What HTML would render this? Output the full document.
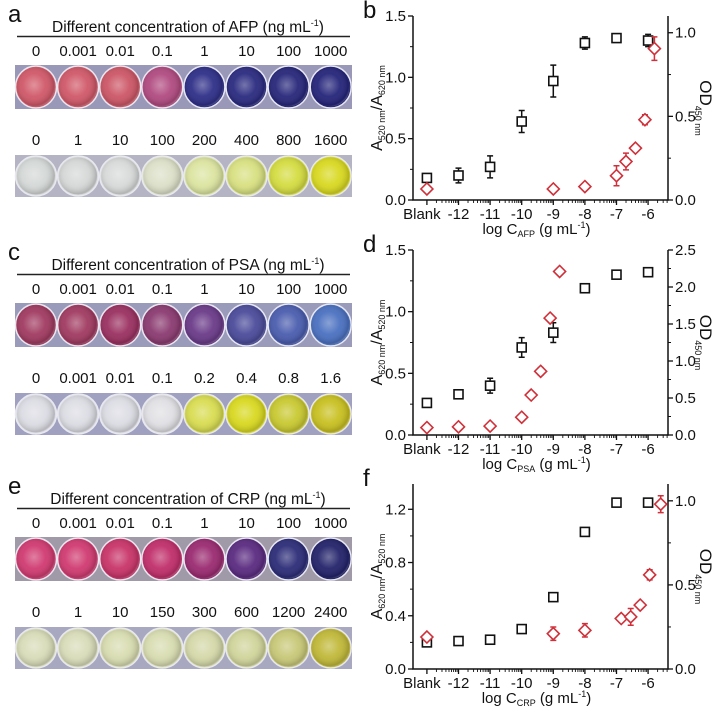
<!DOCTYPE html>
<html><head><meta charset="utf-8"><style>
html,body{margin:0;padding:0;background:#fff;}
svg{display:block;font-family:"Liberation Sans",sans-serif;}
</style></head><body>
<svg id="fig" width="723" height="711" viewBox="0 0 723 711">
<defs>
<radialGradient id="shine" cx="0.45" cy="0.45" r="0.6">
<stop offset="0" stop-color="#fff" stop-opacity="0.35"/>
<stop offset="0.5" stop-color="#fff" stop-opacity="0.05"/>
<stop offset="0.85" stop-color="#000" stop-opacity="0.15"/>
<stop offset="1" stop-color="#fff" stop-opacity="0.5"/>
</radialGradient>
</defs>
<g id="photos"></g>
<g id="charts"></g>
</svg>
<script>
// ---------- photo panel data ----------
const panelLetters = ['a','c','e'];
const panelAnalytes = ['AFP','PSA','CRP'];
const topLabels = [
 ['0','0.001','0.01','0.1','1','10','100','1000'],
 ['0','0.001','0.01','0.1','1','10','100','1000'],
 ['0','0.001','0.01','0.1','1','10','100','1000']];
const bottomLabels = [
 ['0','1','10','100','200','400','800','1600'],
 ['0','0.001','0.01','0.1','0.2','0.4','0.8','1.6'],
 ['0','1','10','150','300','600','1200','2400']];
const topColors = [
 ['#d05868','#d05868','#cc5666','#b04a80','#2e2e88','#2a2a80','#26267a','#24247a'],
 ['#a03a60','#a03a60','#9a3060','#8a3a70','#6a3a88','#4a4a9a','#4a5cae','#4a70c0'],
 ['#d03a70','#d03a70','#c83468','#c02e6a','#9a2a70','#5a2a80','#2c2c78','#22226a']];
const bottomColors = [
 ['#d4d8d6','#d6d8d8','#d8dada','#dce0c8','#dce4a0','#d8e080','#d4dc40','#d8d820'],
 ['#dcdce4','#dcdce4','#dcdce4','#e0e0e4','#d8dc50','#d8d820','#c8c830','#c8c020'],
 ['#d8dcb8','#d8dcb8','#d8dcb0','#d8dcb0','#d4d8a8','#d0d49a','#c8c878','#c0b838']];
const topBg = ['#9a98b8','#9a9aba','#a09aa8'];
const bottomBg = ['#b4b4c4','#a0a0c0','#a8a8c0'];
const panelOffsets = [0,238,472];

const NS='http://www.w3.org/2000/svg';
function mk(tag, attrs, parent){const e=document.createElementNS(NS,tag);for(const k in attrs)e.setAttribute(k,attrs[k]);if(parent)parent.appendChild(e);return e;}
function txt(parent,x,y,s,size,anchor,name){const t=mk('text',{x:x,y:y,'font-size':size,'text-anchor':anchor||'middle',fill:'#111'},parent);t.textContent=s;return t;}

const photos=document.getElementById('photos');
for(let p=0;p<3;p++){
  const oy=panelOffsets[p];
  const g=mk('g',{},photos);
  
  
  txt(g,8,oy+22,panelLetters[p],24,'start','panel-letter-'+panelLetters[p]);
  const h=mk('text',{x:188,y:oy+32,'font-size':15.5,'text-anchor':'middle',fill:'#111'},g);
  
  
  h.innerHTML='Different concentration of '+panelAnalytes[p]+' (ng mL<tspan dy="-6" font-size="9">-1</tspan><tspan dy="6">)</tspan>';
  const ln=mk('line',{x1:17,x2:350,y1:oy+36.5,y2:oy+36.5,stroke:'#222','stroke-width':1.6},g);
  
  
  const rows=[{y0:oy+65,h:44,lab:topLabels[p],col:topColors[p],bg:topBg[p],ly:oy+56},
              {y0:oy+155,h:42,lab:bottomLabels[p],col:bottomColors[p],bg:bottomBg[p],ly:oy+145}];
  rows.forEach((r,ri)=>{
    const bg=mk('rect',{x:15,y:r.y0,width:337,height:r.h,fill:r.bg},g);
    
    
    for(let i=0;i<8;i++){
      const cx=36+i*42.1, cy=r.y0+r.h/2;
      txt(g,cx,r.ly,r.lab[i],15,'middle','concentration-label');
      const c=mk('ellipse',{cx:cx,cy:cy,rx:20.5,ry:r.h/2-1,fill:r.col[i],stroke:'#e8e8f0','stroke-width':1.5},g);
      
      
      const s=mk('ellipse',{cx:cx,cy:cy,rx:19,ry:r.h/2-2.5,fill:'url(#shine)'},g);
      
      
    }
  });
}

// ---------- chart data ----------
const xTickVals = [-13,-12,-11,-10,-9,-8,-7,-6];
const xTickLabels = ['Blank','-12','-11','-10','-9','-8','-7','-6'];

const bBlackX = [-13,-12,-11,-10,-9,-8,-7,-6];
const bBlackY = [0.18,0.20,0.27,0.64,0.97,1.28,1.32,1.30];
const bBlackE = [0.02,0.06,0.09,0.09,0.13,0.05,0.02,0.05];
const bRedX = [-13,-9,-8,-7,-6.7,-6.4,-6.1,-5.8];
const bRedY = [0.066,0.066,0.08,0.145,0.23,0.31,0.48,0.905];
const bRedE = [0.01,0.01,0.01,0.06,0.05,0.02,0.03,0.07];

const dBlackX = [-13,-12,-11,-10,-9,-8,-7,-6];
const dBlackY = [0.26,0.33,0.40,0.71,0.83,1.19,1.30,1.32];
const dBlackE = [0.01,0.02,0.06,0.08,0.08,0.01,0.01,0.01];
const dRedX = [-13,-12,-11,-10,-9.7,-9.4,-9.1,-8.8];
const dRedY = [0.10,0.11,0.12,0.24,0.54,0.86,1.58,2.21];
const dRedE = [0.02,0.02,0.02,0.03,0.03,0.05,0.04,0.03];

const fBlackX = [-13,-12,-11,-10,-9,-8,-7,-6];
const fBlackY = [0.20,0.21,0.22,0.30,0.54,1.03,1.25,1.25];
const fBlackE = [0.01,0.01,0.01,0.02,0.01,0.03,0.01,0.01];
const fRedX = [-13,-9,-8,-6.85,-6.55,-6.25,-5.95,-5.6];
const fRedY = [0.19,0.21,0.23,0.30,0.31,0.38,0.56,0.98];
const fRedE = [0.02,0.04,0.04,0.02,0.05,0.02,0.03,0.05];

const bLeftTicks=[0,0.5,1.0,1.5], bLeftLabels=['0.0','0.5','1.0','1.5'];
const bRightTicks=[0,0.5,1.0], bRightLabels=['0.0','0.5','1.0'];
const dLeftTicks=[0,0.5,1.0,1.5], dLeftLabels=['0.0','0.5','1.0','1.5'];
const dRightTicks=[0,0.5,1.0,1.5,2.0,2.5], dRightLabels=['0.0','0.5','1.0','1.5','2.0','2.5'];
const fLeftTicks=[0,0.4,0.8,1.2], fLeftLabels=['0.0','0.4','0.8','1.2'];
const fRightTicks=[0,0.5,1.0], fRightLabels=['0.0','0.5','1.0'];

const charts=[
 {id:'b',top:16,bottom:200,lmax:1.5,rmax:1.1,lt:bLeftTicks,ll:bLeftLabels,lminor:0.25,rt:bRightTicks,rl:bRightLabels,rminor:0.25,
  bx:bBlackX,by:bBlackY,be:bBlackE,rx:bRedX,ry:bRedY,re:bRedE,ylab:['520','620'],an:'AFP'},
 {id:'d',top:250,bottom:435,lmax:1.5,rmax:2.5,lt:dLeftTicks,ll:dLeftLabels,lminor:0.25,rt:dRightTicks,rl:dRightLabels,rminor:0.25,
  bx:dBlackX,by:dBlackY,be:dBlackE,rx:dRedX,ry:dRedY,re:dRedE,ylab:['620','520'],an:'PSA'},
 {id:'f',top:484,bottom:669,lmax:1.39,rmax:1.1,lt:fLeftTicks,ll:fLeftLabels,lminor:0.2,rt:fRightTicks,rl:fRightLabels,rminor:0.25,
  bx:fBlackX,by:fBlackY,be:fBlackE,rx:fRedX,ry:fRedY,re:fRedE,ylab:['620','520'],an:'CRP'}
];
const X0=413,X1=668,XMIN=-13.44,XMAX=-5.37;
function xs(v){return X0+(v-XMIN)/(XMAX-XMIN)*(X1-X0);}
const RED='#d0303a';
const chartsG=document.getElementById('charts');
charts.forEach(c=>{
  const g=mk('g',{},chartsG);
  
  
  const yl=v=>c.bottom-v/c.lmax*(c.bottom-c.top);
  const yr=v=>c.bottom-v/c.rmax*(c.bottom-c.top);
  txt(g,363,c.top+2,c.id,24,'start','panel-letter-'+c.id);
  const ax=mk('path',{d:`M${X0},${c.top} V${c.bottom} H${X1} V${c.top}`,fill:'none',stroke:'#111','stroke-width':1.5},g);
  
  
  xTickVals.forEach((v,i)=>{
    const t=mk('line',{x1:xs(v),x2:xs(v),y1:c.bottom,y2:c.bottom+5,stroke:'#111','stroke-width':1.3},g);
    
    
    txt(g,xs(v)-(i===0?5:0),c.bottom+19,xTickLabels[i],15,'middle','x-tick-label');
    for(let m=2;m<=9;m++){
      const mv=v+Math.log10(m);
      if(mv>XMAX)continue;
      const mt=mk('line',{x1:xs(mv),x2:xs(mv),y1:c.bottom,y2:c.bottom+3,stroke:'#111','stroke-width':0.9},g);
      
      
    }
  });
  c.lt.forEach((v,i)=>{
    const t=mk('line',{x1:X0-5,x2:X0,y1:yl(v),y2:yl(v),stroke:'#111','stroke-width':1.3},g);
    
    
    txt(g,X0-7,yl(v)+5,c.ll[i],15,'end','left-y-tick-label');
  });
  for(let v=c.lminor;v<c.lmax;v+=c.lminor*2){
    const t=mk('line',{x1:X0-3,x2:X0,y1:yl(v),y2:yl(v),stroke:'#111','stroke-width':1},g);
    
    
  }
  c.rt.forEach((v,i)=>{
    const t=mk('line',{x1:X1,x2:X1+5,y1:yr(v),y2:yr(v),stroke:'#111','stroke-width':1.3},g);
    
    
    txt(g,X1+7,yr(v)+5,c.rl[i],15,'start','right-y-tick-label');
  });
  for(let v=c.rminor;v<c.rmax;v+=c.rminor*2){
    const t=mk('line',{x1:X1,x2:X1+3,y1:yr(v),y2:yr(v),stroke:'#111','stroke-width':1},g);
    
    
  }
  const xt=mk('text',{x:X0+(X1-X0)/2-4,y:c.bottom+34,'font-size':15,'text-anchor':'middle',fill:'#111'},g);
  
  
  xt.innerHTML=`log C<tspan dy="3" font-size="9">${c.an}</tspan><tspan dy="-3"> (g mL</tspan><tspan dy="-6" font-size="9">-1</tspan><tspan dy="6">)</tspan>`;
  const cy=(c.top+c.bottom)/2;
  const ylt=mk('text',{x:0,y:0,'font-size':16,'text-anchor':'middle',fill:'#111',transform:`translate(382,${cy}) rotate(-90)`},g);
  
  
  ylt.innerHTML=`A<tspan dy="3" font-size="9">${c.ylab[0]} nm</tspan><tspan dy="-3">/A</tspan><tspan dy="3" font-size="9">${c.ylab[1]} nm</tspan>`;
  const yrt=mk('text',{x:0,y:0,'font-size':17,'text-anchor':'middle',fill:'#111',transform:`translate(700,${cy}) rotate(90)`},g);
  
  
  yrt.innerHTML=`OD<tspan dy="5" font-size="9">450 nm</tspan>`;
  c.bx.forEach((xv,i)=>{
    const px=xs(xv),py=yl(c.by[i]),e1=yl(c.by[i]+c.be[i]),e2=yl(c.by[i]-c.be[i]);
    const eb=mk('path',{d:`M${px},${e1}V${e2}M${px-3},${e1}H${px+3}M${px-3},${e2}H${px+3}`,stroke:'#111','stroke-width':1.5,fill:'none'},g);
    
    
    const s=mk('rect',{x:px-4.5,y:py-4.5,width:9,height:9,fill:'#fff',stroke:'#111','stroke-width':1.6},g);
    
    
  });
  c.rx.forEach((xv,i)=>{
    const px=xs(xv),py=yr(c.ry[i]),e1=yr(c.ry[i]+c.re[i]),e2=yr(c.ry[i]-c.re[i]);
    const eb=mk('path',{d:`M${px},${e1}V${e2}M${px-3},${e1}H${px+3}M${px-3},${e2}H${px+3}`,stroke:RED,'stroke-width':1.5,fill:'none'},g);
    
    
    const d=mk('path',{d:`M${px},${py-6}L${px+6},${py}L${px},${py+6}L${px-6},${py}Z`,fill:'#fff',stroke:RED,'stroke-width':1.6},g);
    
    
  });
});
</script>
</body></html>
